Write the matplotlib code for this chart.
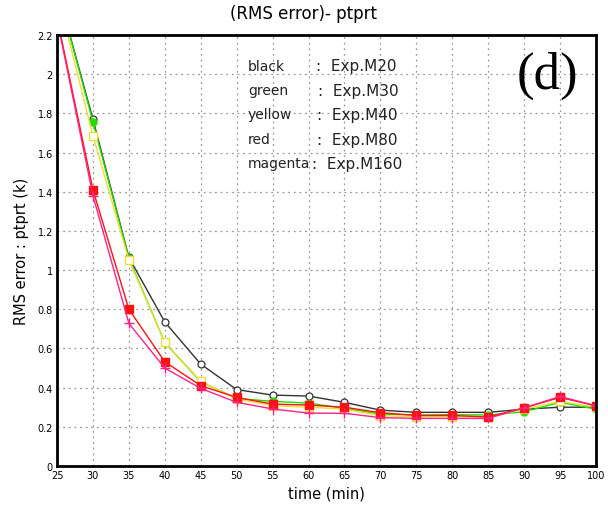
import matplotlib.pyplot as plt
import numpy as np

# time axis (min)
time = [25, 30, 35, 40, 45, 50, 55, 60, 65, 70, 75, 80, 85, 90, 95, 100]

m20 = [2.44, 1.77, 1.065, 0.735, 0.52, 0.39, 0.362, 0.357, 0.325, 0.285, 0.274, 0.274, 0.274, 0.29, 0.30, 0.30]
m30 = [2.44, 1.757, 1.06, 0.63, 0.43, 0.345, 0.33, 0.321, 0.294, 0.265, 0.26, 0.262, 0.26, 0.277, 0.325, 0.29]
m40 = [2.42, 1.685, 1.051, 0.631, 0.432, 0.342, 0.308, 0.30, 0.29, 0.257, 0.252, 0.252, 0.25, 0.29, 0.33, 0.30]
m80 = [2.29, 1.41, 0.80, 0.532, 0.41, 0.35, 0.316, 0.311, 0.30, 0.272, 0.258, 0.258, 0.25, 0.297, 0.35, 0.307]
m160 = [2.28, 1.38, 0.728, 0.50, 0.396, 0.325, 0.291, 0.27, 0.269, 0.247, 0.243, 0.243, 0.243, 0.297, 0.355, 0.307]

names = ['black', 'green', 'yellow', 'red', 'magenta']
exps = ['Exp.M20', 'Exp.M30', 'Exp.M40', 'Exp.M80', 'Exp.M160']

W, H = 608, 510
fig = plt.figure(figsize=(W / 100, H / 100), dpi=100)
ax = fig.add_axes([57 / W, 1 - 467 / H, (596 - 57) / W, (467 - 36) / H])

ax.plot(time, m20, color='#333333', lw=1.0, marker='o', ms=5, mfc='white', mec='#333333', mew=0.9)
ax.plot(time, m30, color='#22dd00', lw=1.0, marker='o', ms=5, mfc='#22dd00', mec='#22dd00')
ax.plot(time, m40, color='#eedd33', lw=1.0, marker='s', ms=6, mfc='white', mec='#eedd33', mew=1.0)
ax.plot(time, m80, color='#ff1111', lw=1.0, marker='s', ms=6, mfc='#ff1111', mec='#ff1111')
ax.plot(time, m160, color='#ff2288', lw=1.0, marker='+', ms=7, mec='#ff2288', mew=1.0)

ax.set_xlim(25, 100)
ax.set_ylim(0, 2.2)
ax.set_xticks(np.arange(25, 101, 5))
ax.set_yticks(np.round(np.arange(0, 2.21, 0.2), 1))
ax.set_yticklabels(['0', '0.2', '0.4', '0.6', '0.8', '1', '1.2', '1.4', '1.6', '1.8', '2', '2.2'])
ax.tick_params(labelsize=7, length=0, pad=3)
ax.grid(True, color='#999999', linestyle=(0, (1.5, 3)), lw=0.9)
for s in ax.spines.values():
    s.set_linewidth(2)

ax.set_xlabel('time (min)', fontsize=10.5, labelpad=4)
ax.set_ylabel('RMS error : ptprt (k)', fontsize=10.5, labelpad=6)
fig.text(0.5, 1 - 14 / H, '(RMS error)- ptprt', ha='center', va='center', fontsize=12)

# legend text
ys = [67, 91.5, 115.5, 140, 164.5]
cols = [316, 318, 317, 317, 312]
for name, exp, y, cx in zip(names, exps, ys, cols):
    fig.text(248 / W, 1 - y / H, name, ha='left', va='center', fontsize=10, color='#222222')
    fig.text(cx / W, 1 - y / H, ':  ' + exp, ha='left', va='center', fontsize=11, color='#222222')

fig.text(547 / W, 1 - 76 / H, '(d)', ha='center', va='center', fontsize=38,
         family='Liberation Serif')

fig.savefig('out.png', dpi=100)
